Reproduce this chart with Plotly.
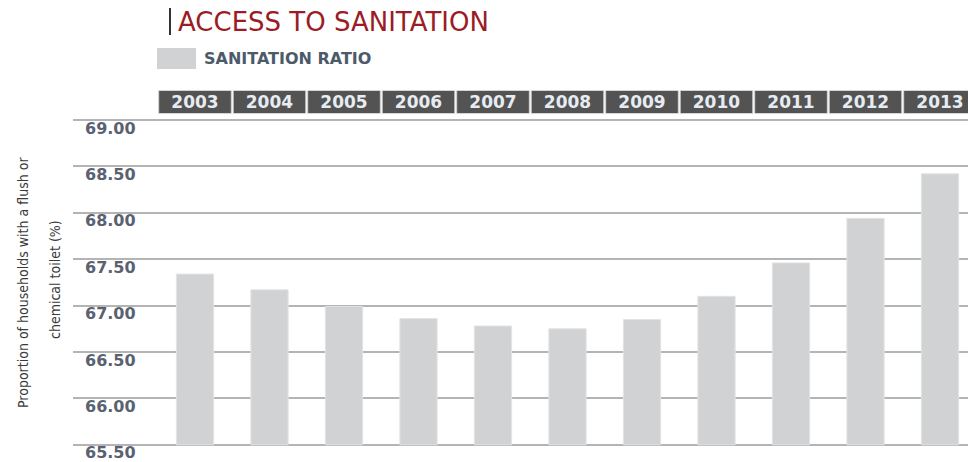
import plotly.graph_objects as go

years = ["2003", "2004", "2005", "2006", "2007", "2008", "2009", "2010", "2011", "2012", "2013"]
sanitation_ratio = [67.34, 67.17, 66.99, 66.86, 66.78, 66.75, 66.85, 67.10, 67.46, 67.94, 68.42]
tick_values = [65.5, 66.0, 66.5, 67.0, 67.5, 68.0, 68.5, 69.0]
tick_labels = ["65.50", "66.00", "66.50", "67.00", "67.50", "68.00", "68.50", "69.00"]
base_value = 65.5

W, H = 968, 462
ML, MT = 73, 88
PW, PH = W - ML, H - MT

def px_x(p):
    return (p - ML) / PW

def px_y(p):
    return (H - p) / PH

fig = go.Figure()
fig.add_trace(go.Bar(
    x=years,
    y=[v - base_value for v in sanitation_ratio],
    base=base_value,
    width=0.5,
    marker=dict(color="#d1d2d4", line=dict(color="#e2e3e5", width=1)),
    name="SANITATION RATIO",
    showlegend=False,
    xaxis="x", yaxis="y",
))
# invisible companion trace so the label axis is drawn
fig.add_trace(go.Scatter(
    x=years, y=sanitation_ratio, mode="markers",
    marker=dict(opacity=0, size=1),
    showlegend=False, hoverinfo="skip",
    xaxis="x", yaxis="y3",
))
# header row of year boxes
fig.add_trace(go.Bar(
    x=years,
    y=[1] * len(years),
    width=0.975,
    marker=dict(color="#535353", line=dict(color="#d4d4d4", width=1)),
    text=years,
    textposition="inside",
    insidetextanchor="middle",
    textangle=0,
    constraintext="none",
    textfont=dict(family="DejaVu Sans", size=17, color="#e6ecf2", weight="bold"),
    showlegend=False,
    hoverinfo="skip",
    xaxis="x", yaxis="y2",
))

title_font = "Liberation Sans Narrow, DejaVu Sans Condensed, Arial Narrow, sans-serif"
annotations = [
    dict(x=px_x(176), xref="paper", y=px_y(22), yref="paper",
         text="ACCESS TO SANITATION", showarrow=False, xanchor="left", yanchor="middle",
         font=dict(family="DejaVu Sans", size=26, color="#9b1c24")),
    dict(x=px_x(202), xref="paper", y=px_y(59), yref="paper",
         text="SANITATION RATIO", showarrow=False, xanchor="left", yanchor="middle",
         font=dict(family="DejaVu Sans", size=16, color="#4d5a6a", weight="bold")),
    dict(x=px_x(23), xref="paper", y=px_y(283), yref="paper",
         text="Proportion of households with a flush or",
         showarrow=False, xanchor="center", yanchor="middle", textangle=-90,
         font=dict(family=title_font, size=14, color="#3a3a3a")),
    dict(x=px_x(55), xref="paper", y=px_y(280), yref="paper",
         text="chemical toilet (%)",
         showarrow=False, xanchor="center", yanchor="middle", textangle=-90,
         font=dict(family=title_font, size=14, color="#3a3a3a")),
]

shapes = [
    dict(type="rect", xref="paper", yref="paper",
         x0=px_x(157), x1=px_x(196), y0=px_y(69), y1=px_y(48),
         fillcolor="#d1d2d4", line=dict(width=0)),
    dict(type="line", xref="paper", yref="paper",
         x0=px_x(170), x1=px_x(170), y0=px_y(35), y1=px_y(8),
         line=dict(color="#333333", width=2)),
]

scale = 92.8
main_top_px = 118
hi = 69.0 + (120 - main_top_px) / scale
lo = hi - (H - main_top_px) / scale
cat_w = 74.5
x_lo = -(195 - ML) / cat_w
x_hi = x_lo + PW / cat_w
main_domain = [0, px_y(main_top_px)]

fig.update_layout(
    width=W, height=H,
    margin=dict(l=ML, r=0, t=MT, b=0, pad=0),
    paper_bgcolor="white", plot_bgcolor="white",
    annotations=annotations, shapes=shapes,
    xaxis=dict(type="category", range=[x_lo, x_hi], showticklabels=False,
               showgrid=False, zeroline=False, showline=False, ticks=""),
    yaxis=dict(domain=main_domain, range=[lo, hi],
               tickvals=tick_values, showticklabels=False,
               showgrid=True, gridcolor="#b4b4b4", gridwidth=1.5,
               zeroline=False, showline=False, ticks=""),
    yaxis3=dict(overlaying="y", side="right", anchor="free", position=px_x(84),
                range=[lo, hi],
                tickvals=tick_values, ticktext=tick_labels,
                ticklabelshift=8, ticklabeloverflow="allow",
                tickfont=dict(family="DejaVu Sans", size=16, color="#5a6272", weight="bold"),
                showgrid=False, zeroline=False, showline=False, ticks=""),
    yaxis2=dict(domain=[px_y(113.5), px_y(90.5)], range=[0, 1],
                showticklabels=False, showgrid=False, zeroline=False,
                showline=False, ticks="", fixedrange=True),
    font=dict(family="DejaVu Sans"),
)

fig.write_html("out.html", config={"displayModeBar": False},
               post_script="document.body.style.margin='0';")
